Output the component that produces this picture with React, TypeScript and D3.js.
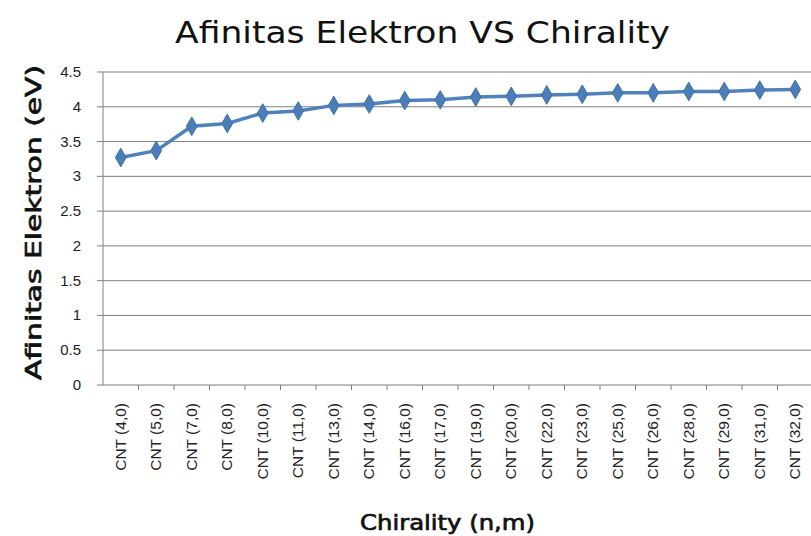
import React from "react";
import * as d3 from "d3";

const categories = ["CNT (4,0)","CNT (5,0)","CNT (7,0)","CNT (8,0)","CNT (10,0)","CNT (11,0)","CNT (13,0)","CNT (14,0)","CNT (16,0)","CNT (17,0)","CNT (19,0)","CNT (20,0)","CNT (22,0)","CNT (23,0)","CNT (25,0)","CNT (26,0)","CNT (28,0)","CNT (29,0)","CNT (31,0)","CNT (32,0)"];
const values = [3.27,3.37,3.72,3.76,3.91,3.94,4.02,4.04,4.09,4.10,4.14,4.15,4.17,4.18,4.20,4.20,4.22,4.22,4.24,4.25];
const yTicks = [0,0.5,1,1.5,2,2.5,3,3.5,4,4.5];
const yTickLabels = ["0","0.5","1","1.5","2","2.5","3","3.5","4","4.5"];

export default function App() {
  const W = 811, H = 536;
  const left = 103, right = 813, top = 72, bottom = 385;
  const x = d3.scaleBand<string>().domain(categories).range([left, right]);
  const y = d3.scaleLinear().domain([0, 4.5]).range([bottom, top]);
  const line = d3.line<number>().x((_, i) => x(categories[i])! + x.bandwidth() / 2).y(d => y(d));
  const comic = "'Comic Sans MS', 'DejaVu Sans', sans-serif";
  const sans = "'Liberation Sans', Arial, sans-serif";
  const diamond = d3.symbol().type(d3.symbolDiamond).size(100)();
  return (
    <svg width={W} height={H} style={{ position: "absolute", left: 0, top: 0, background: "#fff" }}>
      <rect width={W} height={H} fill="#fff" />
      <text x={175} y={43} textLength={495} lengthAdjust="spacingAndGlyphs" fontFamily={comic} fontSize={31} fill="#111">Afinitas Elektron VS Chirality</text>
      {yTicks.map((t, i) => (
        <g key={i}>
          {t > 0 && <line x1={left} x2={right} y1={y(t)} y2={y(t)} stroke="#7f7f7f" strokeWidth={1} />}
          <line x1={left - 6} x2={left} y1={y(t)} y2={y(t)} stroke="#7f7f7f" />
          <text x={left - 22} y={y(t) + 5} textAnchor="end" fontFamily={sans} fontSize={15} fill="#222">{yTickLabels[i]}</text>
        </g>
      ))}
      <line x1={left} x2={left} y1={top} y2={bottom} stroke="#7f7f7f" />
      <line x1={left} x2={right} y1={bottom} y2={bottom} stroke="#7f7f7f" />
      {categories.map((c, i) => (
        <g key={c}>
          <line x1={x(c)! + x.bandwidth()} x2={x(c)! + x.bandwidth()} y1={bottom} y2={bottom + 5} stroke="#7f7f7f" />
          <text transform={`translate(${x(c)! + x.bandwidth() / 2 + 5},403) rotate(-90)`} textAnchor="end" fontFamily={sans} fontSize={15.5} fill="#222">{c}</text>
        </g>
      ))}
      <path d={line(values)!} fill="none" stroke="#4f81bd" strokeWidth={3.5} />
      {values.map((v, i) => (
        <path key={i} d={diamond!} transform={`translate(${x(categories[i])! + x.bandwidth() / 2},${y(v)})`} fill="#4a7ebb" stroke="#41709f" strokeWidth={1} />
      ))}
      <text x={360} y={530} textLength={175} lengthAdjust="spacingAndGlyphs" fontFamily={comic} fontSize={21} fill="#111" stroke="#111" strokeWidth={0.7}>Chirality (n,m)</text>
      <text transform="translate(41,380) rotate(-90)" textLength={315} lengthAdjust="spacingAndGlyphs" fontFamily={comic} fontSize={22} fill="#111" stroke="#111" strokeWidth={0.7}>Afinitas Elektron (eV)</text>
    </svg>
  );
}
